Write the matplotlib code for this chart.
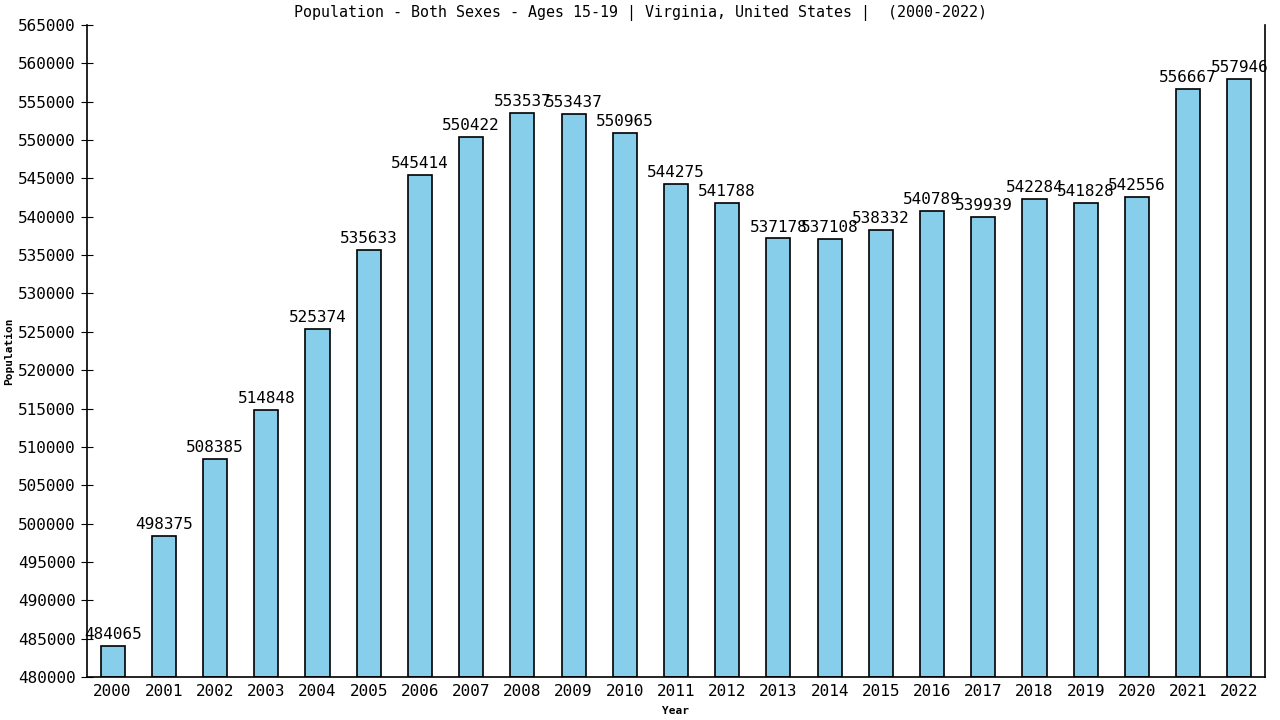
import matplotlib
matplotlib.use("Agg")
import matplotlib.pyplot as plt

years = [str(y) for y in range(2000, 2023)]
population = [484065, 498375, 508385, 514848, 525374, 535633, 545414, 550422,
              553537, 553437, 550965, 544275, 541788, 537178, 537108, 538332,
              540789, 539939, 542284, 541828, 542556, 556667, 557946]
yticks = list(range(480000, 565001, 5000))

plt.rcParams['font.family'] = ['DejaVu Sans Mono']

fig = plt.figure(figsize=(12.8, 7.2), dpi=100)
ax = fig.add_axes([87/1280, 1 - 677/720, (1265-87)/1280, (677-25)/720])

x = list(range(len(years)))
ax.bar(x, [p - 480000 for p in population], bottom=480000, width=0.47,
       color='#87CEEB', edgecolor='black', linewidth=1.2)
for xi, p in zip(x, population):
    ax.text(xi, p + 500, str(p), ha='center', va='bottom', fontsize=11.5)

ax.set_xlim(-0.5, 22.5)
ax.set_ylim(480000, 565000)
ax.set_xticks(x)
ax.set_xticklabels(years, fontsize=11.5)
ax.set_yticks(yticks)
ax.set_yticklabels([str(t) for t in yticks], fontsize=11.5)
ax.tick_params(axis='x', length=0, pad=5)
ax.tick_params(axis='y', direction='inout', length=8, pad=4)
ax.spines['top'].set_visible(False)
for s in ['left', 'right', 'bottom']:
    ax.spines[s].set_linewidth(1.2)
ax.set_xlabel('Year', fontsize=8, fontweight='bold', labelpad=5)
ax.set_ylabel('Population', fontsize=8, fontweight='bold', labelpad=3)
fig.text(0.5, 1 - 13/720, 'Population - Both Sexes - Ages 15-19 | Virginia, United States |  (2000-2022)',
         ha='center', va='center', fontsize=10.8)

fig.savefig('out.png', dpi=100)
